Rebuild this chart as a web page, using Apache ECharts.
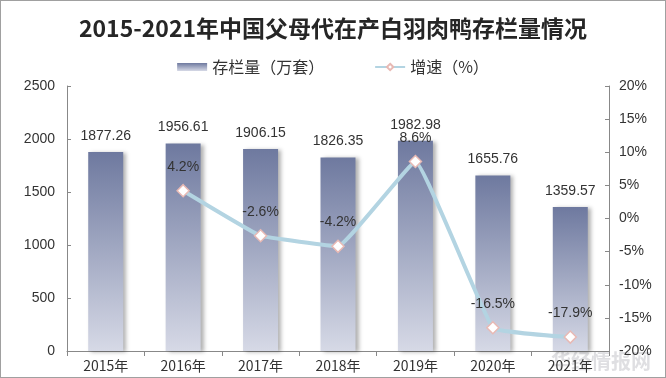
<!DOCTYPE html>
<html>
<head>
<meta charset="utf-8">
<script src="https://cdn.jsdelivr.net/npm/echarts@6/dist/echarts.min.js"></script>
<style>
html, body { margin: 0; padding: 0; background: #fff; }
#chart { width: 666px; height: 378px; box-sizing: border-box; border: 1px solid #a0a0a0; }
</style>
</head>
<body>
<div id="chart"></div>
<script>
var years = ['2015年', '2016年', '2017年', '2018年', '2019年', '2020年', '2021年'];
var stock = [1877.26, 1956.61, 1906.15, 1826.35, 1982.98, 1655.76, 1359.57];
var growth = [null, 4.2, -2.6, -4.2, 8.6, -16.5, -17.9];

var myChart = echarts.init(document.getElementById('chart'));

var option = {
    animation: false,
    title: {
        text: '2015-2021年中国父母代在产白羽肉鸭存栏量情况',
        left: 'center',
        top: 11,
        textStyle: {
            fontFamily: 'Noto Sans CJK SC',
            fontSize: 23,
            fontWeight: 'bold',
            color: '#262626'
        }
    },
    legend: {
        top: 53,
        left: 'center',
        itemGap: 50,
        itemWidth: 30,
        itemHeight: 8,
        textStyle: { fontFamily: 'Noto Sans CJK SC', fontSize: 16, color: '#333' },
        data: [
            { name: '存栏量（万套）', icon: 'rect' },
            { name: '增速（%）' }
        ]
    },
    grid: { left: 66, right: 56, top: 85, bottom: 26 },
    xAxis: {
        type: 'category',
        data: years,
        axisTick: { show: true, alignWithLabel: false, length: 5, lineStyle: { color: '#888' } },
        axisLine: { lineStyle: { color: '#888' } },
        axisLabel: { fontFamily: 'Noto Sans CJK SC', fontSize: 14, color: '#333', margin: 8 }
    },
    yAxis: [{
        type: 'value',
        min: 0,
        max: 2500,
        interval: 500,
        splitLine: { show: false },
        axisLine: { show: true, lineStyle: { color: '#888' } },
        axisTick: { show: true, inside: true, length: 4, lineStyle: { color: '#888' } },
        axisLabel: { formatter: function (v) { return String(v); }, fontFamily: 'Liberation Sans', fontSize: 14, color: '#333', margin: 12 }
    }, {
        type: 'value',
        min: -20,
        max: 20,
        interval: 5,
        splitLine: { show: false },
        axisLine: { show: true, lineStyle: { color: '#888' } },
        axisTick: { show: true, inside: true, length: 4, lineStyle: { color: '#888' } },
        axisLabel: { formatter: '{value}%', fontFamily: 'Liberation Sans', fontSize: 14, color: '#333', margin: 10 }
    }],
    series: [{
        name: '存栏量（万套）',
        type: 'bar',
        data: stock,
        barWidth: 35,
        itemStyle: {
            color: new echarts.graphic.LinearGradient(0, 0, 0, 1, [
                { offset: 0, color: '#6e799f' },
                { offset: 1, color: '#d6d9e6' }
            ]),
            shadowColor: 'rgba(0,0,0,0.3)',
            shadowBlur: 4,
            shadowOffsetX: 3,
            shadowOffsetY: 1
        },
        label: {
            show: true,
            position: 'top',
            distance: 9,
            fontFamily: 'Liberation Sans',
            fontSize: 14,
            color: '#333'
        }
    }, {
        name: '增速（%）',
        type: 'line',
        yAxisIndex: 1,
        data: growth,
        smooth: 0.08,
        symbol: 'diamond',
        symbolSize: 12,
        lineStyle: { color: '#b3d4e2', width: 4 },
        itemStyle: { color: '#ffffff', borderColor: '#e8b9b4', borderWidth: 1.5 },
        label: {
            show: true,
            position: 'top',
            distance: 10,
            formatter: '{c}%',
            fontFamily: 'Liberation Sans',
            fontSize: 14,
            color: '#333'
        }
    }],
    graphic: [{
        type: 'text',
        right: 14,
        bottom: 6,
        style: {
            text: '华经情报网',
            fontFamily: 'Noto Sans CJK SC',
            fontSize: 20,
            fontWeight: 'bold',
            fill: 'rgba(150,150,160,0.3)'
        }
    }]
};

myChart.setOption(option);
</script>
</body>
</html>
